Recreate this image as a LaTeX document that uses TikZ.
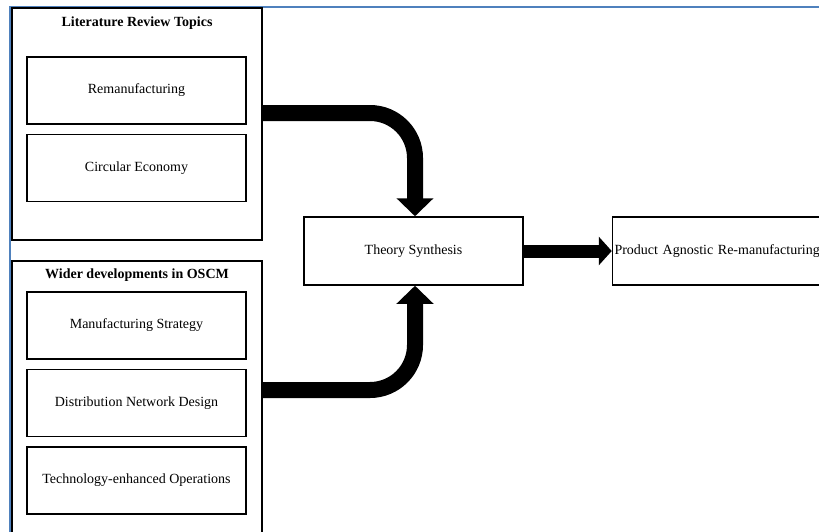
\documentclass[tikz,border=0pt]{standalone}
\usepackage{fontspec}
\setmainfont{Liberation Serif}
\usetikzlibrary{positioning}
\usetikzlibrary{arrows.meta}
\definecolor{frameblue}{RGB}{79,129,189}
\tikzset{
  topic/.style={rectangle,draw,line width=1.5pt,minimum width=219pt,minimum height=67pt,inner sep=0pt},
  group/.style={rectangle,draw,line width=1.5pt,minimum width=250pt,inner sep=0pt},
  heading/.style={font=\fontsize{14}{16}\selectfont\bfseries},
  flow/.style={line width=16pt,rounded corners=45pt,-{Triangle[width=36pt,length=18pt]}},
}
\begin{document}
\begin{tikzpicture}[x=1pt,y=-1pt,font=\fontsize{14}{16}\selectfont]
\useasboundingbox (0,0) rectangle (819,531);
\draw[frameblue,line width=2pt](10,545)--(10,7)--(830,7);
  \node(lit)[group,minimum height=232pt] at (137,124){};
  \node(littitle)[heading] at (137,23){Literature Review Topics};
  \node(reman)[topic] at (136.5,90.5){Remanufacturing};
  \node(circ)[topic,below=9pt of reman]{Circular Economy};
  \node(osc)[group,minimum height=290pt] at (137,406){};
  \node(osctitle)[heading] at (137,275){Wider developments in OSCM};
  \node(manu)[topic] at (136.5,325.5){Manufacturing Strategy};
  \node(dist)[topic,below=9pt of manu]{Distribution Network Design};
  \node(tech)[topic,below=9pt of dist]{Technology-enhanced Operations};
  \node(theory)[topic,minimum height=68pt] at (413.5,251){Theory Synthesis};
  \node(product)[topic,minimum height=68pt,text width=215pt,align=left,right=88pt of theory]{Product Agnostic Re-manufacturing};
\draw[flow]([yshift=11pt]lit.east) -| ([xshift=1.5pt]theory.north);
\draw[flow]([yshift=16pt]osc.east) -| ([xshift=1.5pt]theory.south);
\draw[line width=13pt,-{Triangle[width=28pt,length=13pt]}](theory)--(product);
\end{tikzpicture}
\end{document}
